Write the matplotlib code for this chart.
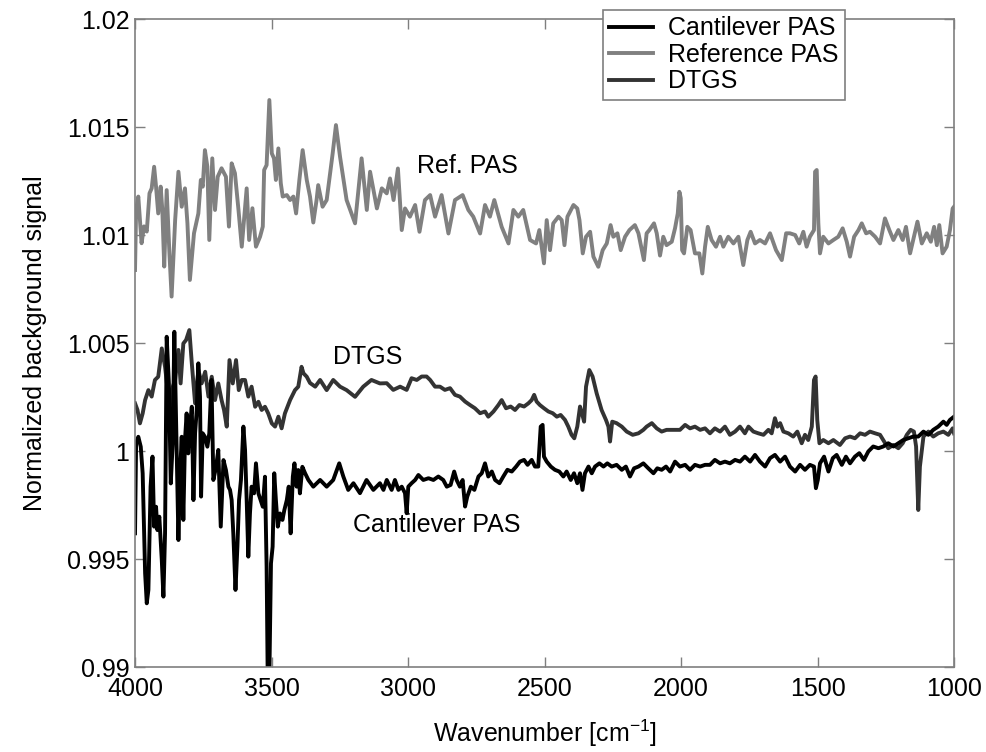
import matplotlib
matplotlib.use("Agg")
import matplotlib.pyplot as plt
from matplotlib.lines import Line2D

# values (wavenumber in cm^-1, normalized signal)
ref_wn = [4000, 3996, 3988, 3976, 3967, 3957, 3947, 3939, 3930, 3923, 3915, 3906, 3900, 3893,
          3884, 3874, 3866, 3853, 3841, 3829, 3817, 3808, 3799, 3784, 3768, 3759, 3752, 3744,
          3735, 3728, 3717, 3707, 3697, 3683, 3667, 3656, 3646, 3634, 3621, 3609, 3591, 3582,
          3570, 3557, 3542, 3532, 3527, 3518, 3508, 3499, 3491, 3484, 3475, 3466, 3459, 3444,
          3432, 3420, 3410, 3398, 3386, 3371, 3359, 3347, 3335, 3329, 3313, 3298, 3276, 3264,
          3249, 3225, 3194, 3170, 3151, 3139, 3114, 3096, 3078, 3066, 3053, 3037, 3023, 3011,
          2993, 2974, 2958, 2938, 2919, 2901, 2877, 2852, 2828, 2800, 2779, 2761, 2736, 2718,
          2700, 2684, 2657, 2632, 2614, 2596, 2578, 2553, 2531, 2519, 2502, 2492, 2480, 2468,
          2449, 2437, 2427, 2416, 2394, 2380, 2372, 2360, 2348, 2333, 2321, 2303, 2287, 2272,
          2258, 2248, 2233, 2221, 2205, 2189, 2169, 2156, 2136, 2126, 2116, 2099, 2089, 2077,
          2065, 2053, 2034, 2022, 2012, 2006, 2001, 1996, 1989, 1977, 1965, 1949, 1933, 1922,
          1912, 1902, 1888, 1872, 1857, 1845, 1827, 1808, 1790, 1772, 1757, 1745, 1729, 1711,
          1692, 1674, 1652, 1631, 1615, 1601, 1582, 1567, 1552, 1540, 1528, 1513, 1509, 1503,
          1497, 1491, 1479, 1460, 1442, 1424, 1408, 1393, 1381, 1366, 1350, 1338, 1322, 1308,
          1289, 1271, 1253, 1237, 1222, 1204, 1188, 1176, 1161, 1147, 1134, 1118, 1100, 1085,
          1073, 1063, 1054, 1042, 1027, 1015, 1005, 1000]
ref_val = [1.00838, 1.01116, 1.01178, 1.00962, 1.01040, 1.01016, 1.01193, 1.01216, 1.01316,
           1.01224, 1.01100, 1.01224, 1.01116, 1.00854, 1.01208, 1.00915, 1.00715, 1.01070,
           1.01293, 1.01131, 1.01216, 1.01054, 1.00792, 1.01008, 1.01100, 1.01255, 1.01224,
           1.01393, 1.01316, 1.00977, 1.01355, 1.01116, 1.01270, 1.01309, 1.01270, 1.01039,
           1.01332, 1.01286, 1.01116, 1.00946, 1.01216, 1.00977, 1.01124, 1.00946, 1.00992,
           1.01039, 1.01301, 1.01324, 1.01625, 1.01378, 1.01355, 1.01255, 1.01401, 1.01239,
           1.01178, 1.01185, 1.01162, 1.01178, 1.01100, 1.01255, 1.01393, 1.01255, 1.01178,
           1.01058, 1.01162, 1.01231, 1.01131, 1.01162, 1.01378, 1.01509, 1.01362, 1.01162,
           1.01054, 1.01355, 1.01116, 1.01293, 1.01123, 1.01216, 1.01193, 1.01262, 1.01162,
           1.01308, 1.01023, 1.01123, 1.01085, 1.01139, 1.01015, 1.01162, 1.01185, 1.01085,
           1.01185, 1.01007, 1.01162, 1.01185, 1.01116, 1.01085, 1.01007, 1.01139, 1.01085,
           1.01162, 1.01038, 1.00961, 1.01116, 1.01085, 1.01116, 1.00977, 1.00961, 1.01023,
           1.00869, 1.01069, 1.00930, 1.01054, 1.01085, 1.01069, 1.00953, 1.01085, 1.01139,
           1.01123, 1.01069, 1.00915, 1.00992, 1.01015, 1.00900, 1.00853, 1.00930, 1.00961,
           1.01046, 1.00992, 1.01008, 1.00930, 1.00992, 1.01023, 1.01046, 1.01008, 1.00884,
           1.01008, 1.01023, 1.01054, 1.01008, 1.00905, 1.00992, 1.00953, 1.00969, 1.01031,
           1.01100, 1.01200, 1.01170, 1.00930, 1.00915, 1.01038, 1.01023, 1.00915, 1.00915,
           1.00822, 1.00946, 1.01038, 1.00977, 1.00946, 1.00992, 1.00946, 1.00992, 1.00961,
           1.00992, 1.00861, 1.00977, 1.01015, 1.00961, 1.00977, 1.00961, 1.01008, 1.00930,
           1.00884, 1.01008, 1.01008, 1.01000, 1.00961, 1.01015, 1.00946, 1.00992, 1.01023,
           1.01293, 1.01301, 1.01054, 1.00915, 1.00992, 1.00961, 1.00977, 1.00992, 1.01031,
           1.00969, 1.00900, 1.00992, 1.01023, 1.01054, 1.01008, 1.01015, 1.00992, 1.00961,
           1.01077, 1.01023, 1.00977, 1.01023, 1.00977, 1.01038, 1.00915, 1.00992, 1.01062,
           1.00961, 1.01008, 1.00969, 1.01038, 1.00953, 1.01046, 1.00915, 1.00946, 1.01023,
           1.01123, 1.01131]

dtgs_wn = [4000, 3991, 3982, 3972, 3963, 3951, 3939, 3927, 3915, 3902, 3890, 3882, 3874, 3866,
           3853, 3841, 3833, 3823, 3813, 3801, 3792, 3780, 3768, 3756, 3743, 3731, 3719, 3707,
           3695, 3683, 3674, 3664, 3654, 3642, 3630, 3620, 3609, 3597, 3585, 3573, 3560, 3548,
           3536, 3524, 3512, 3499, 3487, 3475, 3463, 3451, 3432, 3414, 3402, 3390, 3383, 3371,
           3359, 3340, 3322, 3298, 3274, 3249, 3225, 3194, 3164, 3134, 3103, 3078, 3054, 3029,
           3005, 2987, 2968, 2950, 2932, 2919, 2901, 2883, 2865, 2846, 2828, 2810, 2791, 2773,
           2755, 2736, 2718, 2706, 2687, 2669, 2657, 2641, 2624, 2608, 2592, 2575, 2559, 2547,
           2538, 2529, 2517, 2502, 2486, 2470, 2455, 2441, 2425, 2413, 2401, 2391, 2380, 2370,
           2363, 2355, 2348, 2336, 2324, 2309, 2291, 2275, 2266, 2260, 2252, 2236, 2217, 2199,
           2177, 2156, 2138, 2126, 2107, 2089, 2071, 2053, 2028, 2004, 1985, 1967, 1949, 1930,
           1912, 1894, 1876, 1857, 1839, 1821, 1802, 1784, 1766, 1753, 1735, 1717, 1698, 1680,
           1668, 1656, 1647, 1637, 1625, 1607, 1589, 1574, 1558, 1546, 1534, 1521, 1513, 1507,
           1501, 1493, 1479, 1460, 1442, 1418, 1399, 1381, 1363, 1344, 1326, 1308, 1289, 1271,
           1256, 1241, 1222, 1204, 1188, 1173, 1159, 1147, 1139, 1131, 1125, 1112, 1094, 1076,
           1058, 1039, 1021, 1005, 1000]
dtgs_val = [1.00221, 1.00190, 1.00128, 1.00174, 1.00236, 1.00282, 1.00252, 1.00329, 1.00344,
            1.00475, 1.00390, 1.00298, 1.00190, 1.00282, 1.00329, 1.00468, 1.00313, 1.00498,
            1.00514, 1.00560, 1.00406, 1.00221, 1.00375, 1.00313, 1.00367, 1.00252, 1.00344,
            1.00236, 1.00313, 1.00236, 1.00190, 1.00113, 1.00421, 1.00313, 1.00421, 1.00282,
            1.00329, 1.00329, 1.00252, 1.00298, 1.00205, 1.00228, 1.00190, 1.00205, 1.00174,
            1.00128, 1.00113, 1.00159, 1.00105, 1.00174, 1.00236, 1.00282, 1.00298, 1.00390,
            1.00360, 1.00344, 1.00315, 1.00298, 1.00329, 1.00282, 1.00329, 1.00298, 1.00282,
            1.00251, 1.00298, 1.00329, 1.00313, 1.00314, 1.00283, 1.00298, 1.00283, 1.00337,
            1.00329, 1.00345, 1.00345, 1.00329, 1.00298, 1.00298, 1.00283, 1.00291, 1.00260,
            1.00252, 1.00229, 1.00213, 1.00198, 1.00175, 1.00183, 1.00159, 1.00183, 1.00213,
            1.00236, 1.00198, 1.00206, 1.00190, 1.00213, 1.00206, 1.00221, 1.00236, 1.00260,
            1.00229, 1.00213, 1.00198, 1.00183, 1.00175, 1.00159, 1.00167, 1.00144, 1.00113,
            1.00075, 1.00059, 1.00113, 1.00206, 1.00175, 1.00136, 1.00298, 1.00375, 1.00345,
            1.00267, 1.00190, 1.00144, 1.00113, 1.00044, 1.00136, 1.00129, 1.00113, 1.00090,
            1.00075, 1.00082, 1.00098, 1.00113, 1.00129, 1.00105, 1.00090, 1.00098, 1.00098,
            1.00098, 1.00121, 1.00105, 1.00113, 1.00098, 1.00105, 1.00082, 1.00105, 1.00090,
            1.00113, 1.00075, 1.00090, 1.00113, 1.00082, 1.00113, 1.00090, 1.00082, 1.00075,
            1.00098, 1.00082, 1.00152, 1.00113, 1.00129, 1.00090, 1.00082, 1.00067, 1.00090,
            1.00036, 1.00075, 1.00051, 1.00113, 1.00329, 1.00345, 1.00144, 1.00036, 1.00051,
            1.00036, 1.00051, 1.00028, 1.00059, 1.00067, 1.00059, 1.00082, 1.00075, 1.00090,
            1.00082, 1.00075, 1.00044, 1.00013, 1.00028, 1.00013, 1.00036, 1.00075, 1.00098,
            1.00090, 1.00021, 0.99727, 0.99928, 1.00067, 1.00090, 1.00067, 1.00082, 1.00090,
            1.00075, 1.00105, 1.00082]

cant_wn = [4000, 3996, 3988, 3979, 3972, 3963, 3957, 3951, 3943, 3936, 3930, 3923, 3918, 3911,
           3902, 3896, 3890, 3884, 3876, 3869, 3862, 3856, 3850, 3841, 3835, 3829, 3823, 3817,
           3811, 3805, 3799, 3792, 3786, 3780, 3774, 3768, 3762, 3758, 3752, 3744, 3735, 3728,
           3720, 3713, 3703, 3695, 3686, 3676, 3667, 3658, 3652, 3646, 3640, 3632, 3625, 3619,
           3612, 3603, 3597, 3591, 3585, 3579, 3573, 3564, 3557, 3548, 3540, 3532, 3524, 3518,
           3514, 3508, 3502, 3496, 3490, 3484, 3477, 3469, 3460, 3453, 3444, 3437, 3430, 3422,
           3416, 3408, 3402, 3396, 3387, 3377, 3365, 3347, 3322, 3298, 3274, 3252, 3237, 3219,
           3200, 3176, 3152, 3127, 3103, 3090, 3078, 3060, 3048, 3035, 3023, 3011, 3005, 2999,
           2987, 2974, 2962, 2944, 2925, 2907, 2889, 2871, 2858, 2844, 2831, 2822, 2810, 2800,
           2791, 2783, 2770, 2757, 2742, 2730, 2718, 2706, 2693, 2681, 2665, 2651, 2636, 2620,
           2604, 2590, 2575, 2562, 2547, 2535, 2523, 2514, 2507, 2502, 2492, 2477, 2462, 2446,
           2431, 2419, 2404, 2392, 2380, 2370, 2361, 2352, 2339, 2327, 2315, 2299, 2284, 2270,
           2254, 2236, 2217, 2202, 2187, 2172, 2156, 2138, 2120, 2101, 2087, 2071, 2055, 2040,
           2022, 2004, 1985, 1967, 1949, 1930, 1912, 1894, 1876, 1857, 1839, 1821, 1802, 1784,
           1766, 1747, 1729, 1711, 1692, 1674, 1656, 1637, 1619, 1601, 1582, 1564, 1546, 1528,
           1513, 1506, 1499, 1491, 1476, 1460, 1444, 1430, 1411, 1396, 1381, 1363, 1347, 1330,
           1314, 1296, 1277, 1259, 1241, 1222, 1204, 1186, 1167, 1149, 1131, 1112, 1094, 1076,
           1058, 1039, 1027, 1015, 1000]
cant_val = [0.99619, 1.00036, 1.00066, 1.00020, 0.99897, 0.99434, 0.99295, 0.99357, 0.99835,
            0.99974, 0.99650, 0.99742, 0.99634, 0.99696, 0.99495, 0.99326, 0.99619, 1.00529,
            1.00313, 0.99850, 1.00036, 1.00552, 1.00159, 0.99588, 0.99897, 1.00066, 0.99681,
            1.00051, 1.00174, 0.99989, 1.00113, 1.00205, 0.99773, 1.00082, 1.00190, 1.00406,
            1.00251, 0.99789, 1.00082, 1.00066, 1.00020, 1.00082, 1.00329, 0.99866, 0.99927,
            1.00005, 0.99650, 0.99958, 0.99912, 0.99835, 0.99820, 0.99773, 0.99619, 0.99357,
            0.99557, 0.99773, 0.99866, 1.00113, 1.00005, 0.99773, 0.99511, 0.99711, 0.99835,
            0.99804, 0.99943, 0.99804, 0.99773, 0.99742, 0.99881, 0.99465, 0.98950, 0.98950,
            0.99480, 0.99557, 0.99897, 0.99773, 0.99650, 0.99711, 0.99681, 0.99727, 0.99773,
            0.99835, 0.99619, 0.99881, 0.99943, 0.99835, 0.99912, 0.99804, 0.99927, 0.99897,
            0.99866, 0.99835, 0.99866, 0.99835, 0.99866, 0.99943, 0.99882, 0.99820, 0.99851,
            0.99805, 0.99866, 0.99820, 0.99851, 0.99820, 0.99866, 0.99820, 0.99866, 0.99820,
            0.99835, 0.99805, 0.99712, 0.99835, 0.99851, 0.99866, 0.99889, 0.99866, 0.99874,
            0.99866, 0.99882, 0.99866, 0.99835, 0.99843, 0.99905, 0.99866, 0.99835, 0.99866,
            0.99743, 0.99789, 0.99835, 0.99820, 0.99882, 0.99897, 0.99943, 0.99882, 0.99905,
            0.99866, 0.99851, 0.99882, 0.99913, 0.99905, 0.99928, 0.99951, 0.99959, 0.99936,
            0.99959, 0.99928, 0.99928, 1.00113, 1.00121, 0.99974, 0.99951, 0.99928, 0.99913,
            0.99905, 0.99882, 0.99905, 0.99866, 0.99897, 0.99851, 0.99897, 0.99820, 0.99897,
            0.99928, 0.99897, 0.99928, 0.99943, 0.99928, 0.99943, 0.99928, 0.99936, 0.99913,
            0.99928, 0.99882, 0.99920, 0.99928, 0.99943, 0.99920, 0.99897, 0.99920, 0.99913,
            0.99928, 0.99905, 0.99951, 0.99928, 0.99936, 0.99913, 0.99936, 0.99928, 0.99936,
            0.99936, 0.99959, 0.99943, 0.99951, 0.99943, 0.99959, 0.99951, 0.99974, 0.99951,
            0.99982, 0.99951, 0.99928, 0.99967, 0.99982, 0.99951, 0.99974, 0.99928, 0.99905,
            0.99936, 0.99913, 0.99936, 0.99928, 0.99828, 0.99866, 0.99943, 0.99974, 0.99905,
            0.99967, 0.99982, 0.99936, 0.99974, 0.99943, 0.99974, 0.99990, 0.99959, 0.99998,
            1.00021, 1.00013, 1.00021, 1.00036, 1.00021, 1.00036, 1.00051, 1.00059, 1.00067,
            1.00067, 1.00090, 1.00075, 1.00098, 1.00113, 1.00136, 1.00121, 1.00144, 1.00159]

xticks = [4000, 3500, 3000, 2500, 2000, 1500, 1000]
yticks = [0.99, 0.995, 1.0, 1.005, 1.01, 1.015, 1.02]
ytick_labels = ["0.99", "0.995", "1", "1.005", "1.01", "1.015", "1.02"]
series_names = ["Cantilever PAS", "Reference PAS", "DTGS"]

plt.rcParams["font.family"] = ["Liberation Sans", "DejaVu Sans"]
plt.rcParams["mathtext.default"] = "regular"

c_cant, c_ref, c_dtgs = "#000000", "#808080", "#333333"
frame = "#7f7f7f"
fs = 18

fig = plt.figure(figsize=(9.87, 7.52), dpi=100)
ax = fig.add_axes([0.1368, 0.1130, 0.8298, 0.8617])

ax.plot(ref_wn, ref_val, color=c_ref, lw=2.8)
ax.plot(dtgs_wn, dtgs_val, color=c_dtgs, lw=2.8)
ax.plot(cant_wn, cant_val, color=c_cant, lw=2.8)

ax.set_xlim(4000, 1000)
ax.set_ylim(0.99, 1.02)
ax.set_xticks(xticks)
ax.set_xticklabels([str(t) for t in xticks])
ax.set_yticks(yticks)
ax.set_yticklabels(ytick_labels)
ax.tick_params(direction="in", length=7, width=1, color=frame, labelsize=fs,
               top=True, right=True)
ax.tick_params(axis="x", pad=7)
ax.tick_params(axis="y", pad=4)
for s in ax.spines.values():
    s.set_color(frame)
    s.set_linewidth(1.2)

ax.set_xlabel("Wavenumber [cm$^{-1}$]", fontsize=fs, labelpad=12)
ax.set_ylabel("Normalized background signal", fontsize=fs, labelpad=14)

ax.text(2967, 1.0132, "Ref. PAS", fontsize=fs, va="center", ha="left")
ax.text(3275, 1.00435, "DTGS", fontsize=fs, va="center", ha="left")
ax.text(3201, 0.99657, "Cantilever PAS", fontsize=fs, va="center", ha="left")

handles = [Line2D([], [], color=c, lw=2.8) for c in (c_cant, c_ref, c_dtgs)]
leg = fig.legend(handles, series_names, loc="upper right",
                 bbox_to_anchor=(845 / 987, 1 - 10 / 752), fontsize=fs,
                 frameon=True, fancybox=False, framealpha=1, edgecolor=frame,
                 handlelength=1.75, handletextpad=0.6, borderpad=0.25,
                 labelspacing=0.1, borderaxespad=0)
leg.get_frame().set_linewidth(1.2)

fig.savefig("out.png", dpi=100)
